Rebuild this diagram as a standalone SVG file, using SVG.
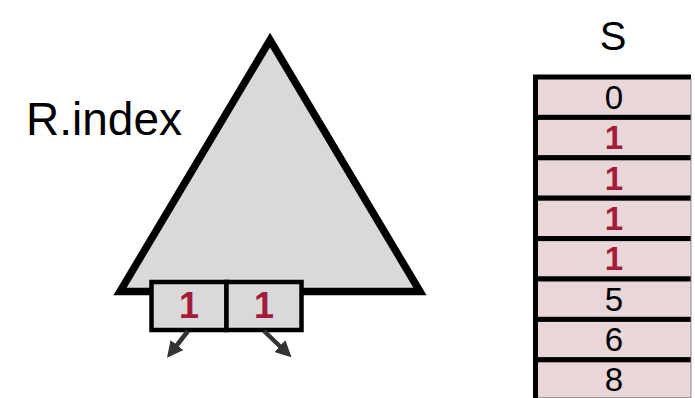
<svg xmlns="http://www.w3.org/2000/svg" width="695" height="398" viewBox="0 0 695 398">
  <defs>
    <style>
      .lbl { font-family: "Liberation Sans", Arial, sans-serif; fill: #000; }
      .num { font-family: "Liberation Sans", Arial, sans-serif; font-size: 33px; text-anchor: middle; fill: #000; }
      .big { font-size: 36px; }
      .hit { font-weight: bold; fill: #a31c3b; }
      .cell { fill: #e8d6d8; stroke: #000; stroke-width: 5; }
      .key { fill: #d9d9d9; stroke: #000; stroke-width: 4.5; }
      .arr { stroke: #333; stroke-width: 4.5; fill: none; marker-end: url(#ah); }
    </style>
    <marker id="ah" viewBox="0 0 10 10" refX="7" refY="5" markerWidth="3.6" markerHeight="3.6" markerUnits="strokeWidth" orient="auto">
      <path d="M0,0 L10,5 L0,10 z" fill="#333"/>
    </marker>
    <clipPath id="clipS"><rect x="0" y="0" width="691" height="398"/></clipPath>
  </defs>
  <rect width="695" height="398" fill="#fff"/>

  <g id="r-index">
    <polygon points="270,40 420,291.5 120,291.5" fill="#d9d9d9" stroke="#000" stroke-width="7.5" stroke-linejoin="miter"/>
    <text class="lbl" x="26" y="135" font-size="46">R.index</text>
  </g>

  <g id="leaf">
    <rect class="key" x="151.5" y="282" width="75" height="48"/>
    <rect class="key" x="226.5" y="282" width="75" height="48"/>
    <text class="num big hit" x="189" y="318">1</text>
    <text class="num big hit" x="264" y="318">1</text>
  </g>

  <g id="connectors">
    <line class="arr" x1="188" y1="331" x2="170" y2="354"/>
    <line class="arr" x1="264" y1="331" x2="288" y2="354"/>
  </g>

  <g id="S">
    <text class="lbl" x="613" y="50" font-size="40" text-anchor="middle">S</text>
    <g clip-path="url(#clipS)">
      <rect class="cell" x="535.5" y="77" width="170" height="40.4"/>
      <rect class="cell" x="535.5" y="117.4" width="170" height="40.4"/>
      <rect class="cell" x="535.5" y="157.8" width="170" height="40.4"/>
      <rect class="cell" x="535.5" y="198.2" width="170" height="40.4"/>
      <rect class="cell" x="535.5" y="238.6" width="170" height="40.4"/>
      <rect class="cell" x="535.5" y="279" width="170" height="40.4"/>
      <rect class="cell" x="535.5" y="319.4" width="170" height="40.4"/>
      <rect class="cell" x="535.5" y="359.8" width="170" height="40.4"/>
    </g>
    <line x1="691" y1="79" x2="691" y2="398" stroke="#888" stroke-width="1"/>
    <text class="num" x="614" y="108.5">0</text>
    <text class="num hit" x="614" y="149">1</text>
    <text class="num hit" x="614" y="189.5">1</text>
    <text class="num hit" x="614" y="230">1</text>
    <text class="num hit" x="614" y="270">1</text>
    <text class="num" x="614" y="310.5">5</text>
    <text class="num" x="614" y="351">6</text>
    <text class="num" x="614" y="391">8</text>
  </g>
</svg>
